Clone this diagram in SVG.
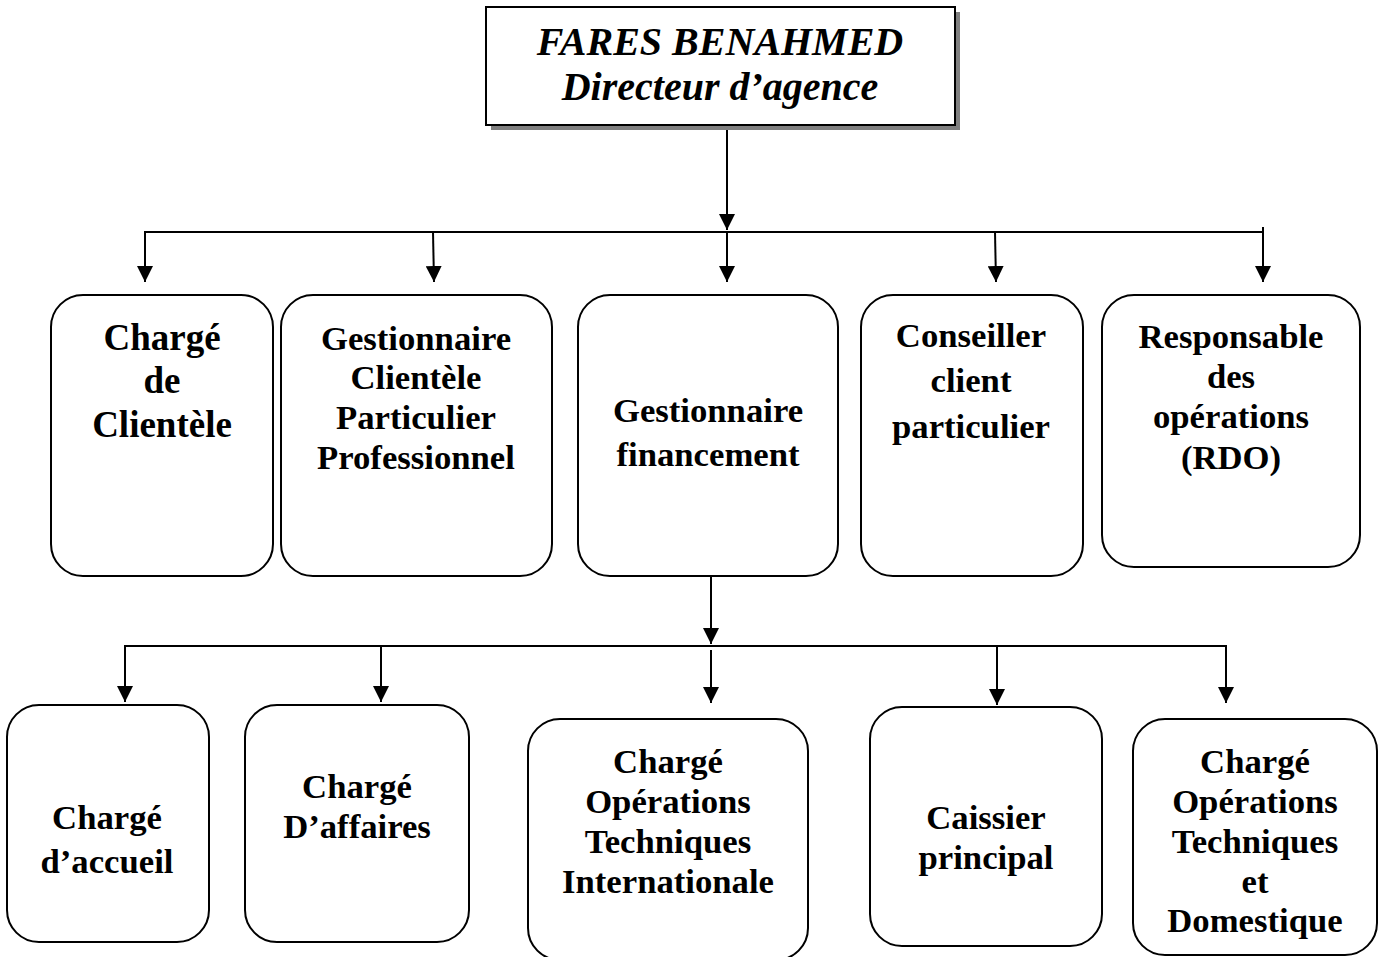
<svg xmlns="http://www.w3.org/2000/svg" width="1379" height="957" viewBox="0 0 1379 957">
<style>
.box{fill:#fff;stroke:#000;stroke-width:2}
.t{font-family:"Liberation Serif","Times New Roman",serif;font-weight:bold;font-size:34.7px;text-anchor:middle;fill:#000}
.big{font-size:37px}
.top{font-family:"Liberation Serif","Times New Roman",serif;font-weight:bold;font-style:italic;font-size:40px;text-anchor:middle;fill:#000}
.c{fill:none;stroke:#000;stroke-width:2}
</style>
<defs>
<marker id="ah" markerUnits="userSpaceOnUse" markerWidth="16" markerHeight="16" viewBox="0 0 16 16" refX="16" refY="8" orient="auto">
<path d="M0,0 L16,8 L0,16 z" fill="#000"/>
</marker>
</defs>
<rect width="1379" height="957" fill="#fff"/>
<g id="connectors">
<line class="c" x1="727" y1="125" x2="727" y2="230" marker-end="url(#ah)"/>
<line class="c" x1="144" y1="232" x2="1264" y2="232"/>
<line class="c" x1="145" y1="232" x2="145" y2="282" marker-end="url(#ah)"/>
<line class="c" x1="433" y1="232" x2="434" y2="282" marker-end="url(#ah)"/>
<line class="c" x1="727" y1="232" x2="727" y2="282" marker-end="url(#ah)"/>
<line class="c" x1="995" y1="232" x2="996" y2="282" marker-end="url(#ah)"/>
<line class="c" x1="1263" y1="227" x2="1263" y2="282" marker-end="url(#ah)"/>
<line class="c" x1="711" y1="576" x2="711" y2="644" marker-end="url(#ah)"/>
<line class="c" x1="124" y1="646" x2="1227" y2="646"/>
<line class="c" x1="125" y1="646" x2="125" y2="702" marker-end="url(#ah)"/>
<line class="c" x1="381" y1="646" x2="381" y2="702" marker-end="url(#ah)"/>
<line class="c" x1="711" y1="650" x2="711" y2="703" marker-end="url(#ah)"/>
<line class="c" x1="997" y1="646" x2="997" y2="705" marker-end="url(#ah)"/>
<line class="c" x1="1226" y1="646" x2="1226" y2="703" marker-end="url(#ah)"/>
</g>
<g id="director">
<rect x="491" y="12" width="469" height="118" fill="#808080"/>
<rect x="486" y="7" width="469" height="118" fill="#fff" stroke="#000" stroke-width="2"/>
<text class="top" x="720" y="55">FARES BENAHMED</text>
<text class="top" x="720" y="100">Directeur d’agence</text>
</g>
<g id="charge-clientele">
<rect class="box" x="51" y="295" width="222" height="281" rx="32"/>
<text class="t big" x="162" y="350">Chargé</text>
<text class="t big" x="162" y="393">de</text>
<text class="t big" x="162" y="437">Clientèle</text>
</g>
<g id="gestionnaire-clientele">
<rect class="box" x="281" y="295" width="271" height="281" rx="32"/>
<text class="t" x="416" y="350">Gestionnaire</text>
<text class="t" x="416" y="389">Clientèle</text>
<text class="t" x="416" y="429">Particulier</text>
<text class="t" x="416" y="469">Professionnel</text>
</g>
<g id="gestionnaire-financement">
<rect class="box" x="578" y="295" width="260" height="281" rx="32"/>
<text class="t" x="708" y="422">Gestionnaire</text>
<text class="t" x="708" y="466">financement</text>
</g>
<g id="conseiller">
<rect class="box" x="861" y="295" width="222" height="281" rx="32"/>
<text class="t" x="971" y="347">Conseiller</text>
<text class="t" x="971" y="392">client</text>
<text class="t" x="971" y="438">particulier</text>
</g>
<g id="rdo">
<rect class="box" x="1102" y="295" width="258" height="272" rx="32"/>
<text class="t" x="1231" y="348">Responsable</text>
<text class="t" x="1231" y="388">des</text>
<text class="t" x="1231" y="428">opérations</text>
<text class="t" x="1231" y="469">(RDO)</text>
</g>
<g id="charge-accueil">
<rect class="box" x="7" y="705" width="202" height="237" rx="32"/>
<text class="t" x="107" y="829">Chargé</text>
<text class="t" x="107" y="873">d’accueil</text>
</g>
<g id="charge-affaires">
<rect class="box" x="245" y="705" width="224" height="237" rx="32"/>
<text class="t" x="357" y="798">Chargé</text>
<text class="t" x="357" y="838">D’affaires</text>
</g>
<g id="charge-oti">
<rect class="box" x="528" y="719" width="280" height="241" rx="32"/>
<text class="t" x="668" y="773">Chargé</text>
<text class="t" x="668" y="813">Opérations</text>
<text class="t" x="668" y="853">Techniques</text>
<text class="t" x="668" y="893">Internationale</text>
</g>
<g id="caissier">
<rect class="box" x="870" y="707" width="232" height="239" rx="32"/>
<text class="t" x="986" y="829">Caissier</text>
<text class="t" x="986" y="869">principal</text>
</g>
<g id="charge-otd">
<rect class="box" x="1133" y="719" width="244" height="236" rx="32"/>
<text class="t" x="1255" y="773">Chargé</text>
<text class="t" x="1255" y="813">Opérations</text>
<text class="t" x="1255" y="853">Techniques</text>
<text class="t" x="1255" y="893">et</text>
<text class="t" x="1255" y="932">Domestique</text>
</g>
</svg>
